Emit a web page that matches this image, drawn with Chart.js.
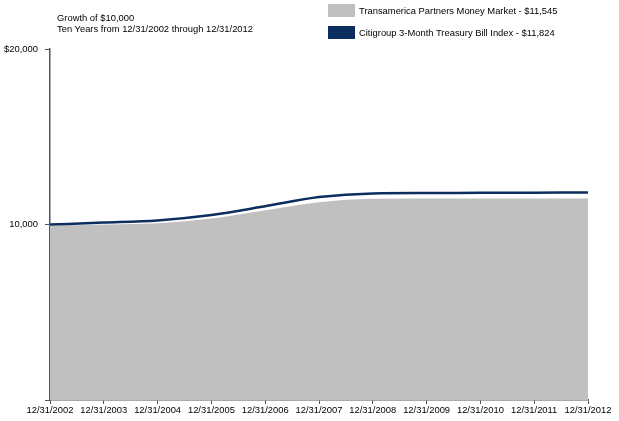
<!DOCTYPE html>
<html><head><meta charset="utf-8">
<script src="https://cdn.jsdelivr.net/npm/chart.js@4"></script>
<style>
html,body{margin:0;padding:0;background:#fff;}
#wrap{position:relative;width:619px;height:421px;font-family:"Liberation Sans",Arial,sans-serif;}
canvas{position:absolute;left:0;top:0;}
.t{position:absolute;font-size:9.4px;line-height:11px;color:#000;white-space:nowrap;}
.box{position:absolute;width:27px;height:13px;}
</style></head>
<body><div id="wrap">
<canvas id="c" width="619" height="421"></canvas>
<div class="t" style="left:57px;top:12px;">Growth of $10,000</div>
<div class="t" style="left:57px;top:23px;">Ten Years from 12/31/2002 through 12/31/2012</div>
<div class="box" style="left:328px;top:4px;background:#c0c0c0;"></div>
<div class="t" style="left:359px;top:5px;">Transamerica Partners Money Market - $11,545</div>
<div class="box" style="left:328px;top:26px;background:#0b2e5e;"></div>
<div class="t" style="left:359px;top:27px;">Citigroup 3-Month Treasury Bill Index - $11,824</div>
</div>
<script>
const categories = ["12/31/2002","12/31/2003","12/31/2004","12/31/2005","12/31/2006","12/31/2007","12/31/2008","12/31/2009","12/31/2010","12/31/2011","12/31/2012"];
const fundValues = [10000,10060,10130,10400,10870,11330,11520,11540,11543,11544,11545];
const indexValues = [10000,10107,10232,10539,11041,11564,11772,11791,11806,11815,11824];
const yTicks = [0,10000,20000];
const yTickLabels = {0:"",10000:"10,000",20000:"$20,000"};
const FONT = {family:'"Liberation Sans", Arial',size:9.4};

new Chart(document.getElementById('c'), {
  type:'line',
  data:{labels:categories, datasets:[
    {label:"Citigroup 3-Month Treasury Bill Index - $11,824", data:indexValues, borderColor:'#0b2e5e', borderWidth:2.5, pointRadius:0, fill:false, cubicInterpolationMode:'monotone', order:0},
    {label:"Transamerica Partners Money Market - $11,545", data:fundValues, borderColor:'#ffffff', borderWidth:2, backgroundColor:'#c0c0c0', pointRadius:0, fill:'origin', cubicInterpolationMode:'monotone', order:1}
  ]},
  options:{
    responsive:false, animation:false,
    layout:{padding:{top:49,right:31,left:0,bottom:0}},
    plugins:{legend:{display:false},tooltip:{enabled:false}},
    scales:{
      x:{offset:false,
        afterFit:s=>{s.height=21;},
        grid:{drawOnChartArea:false,tickLength:4,color:'#555'},
        border:{color:'#555',width:1.5},
        ticks:{maxRotation:0,autoSkip:false,padding:1,color:'#000',font:FONT}},
      y:{min:0,max:20000,
        afterFit:s=>{s.width=50;},
        afterBuildTicks:s=>{s.ticks=yTicks.map(v=>({value:v}));},
        grid:{drawOnChartArea:false,tickLength:5,color:'#555'},
        border:{color:'#555',width:1.5},
        ticks:{padding:7,color:'#000',font:FONT,callback:v=>yTickLabels[v]}}
    }
  }
});
</script>
</body></html>
